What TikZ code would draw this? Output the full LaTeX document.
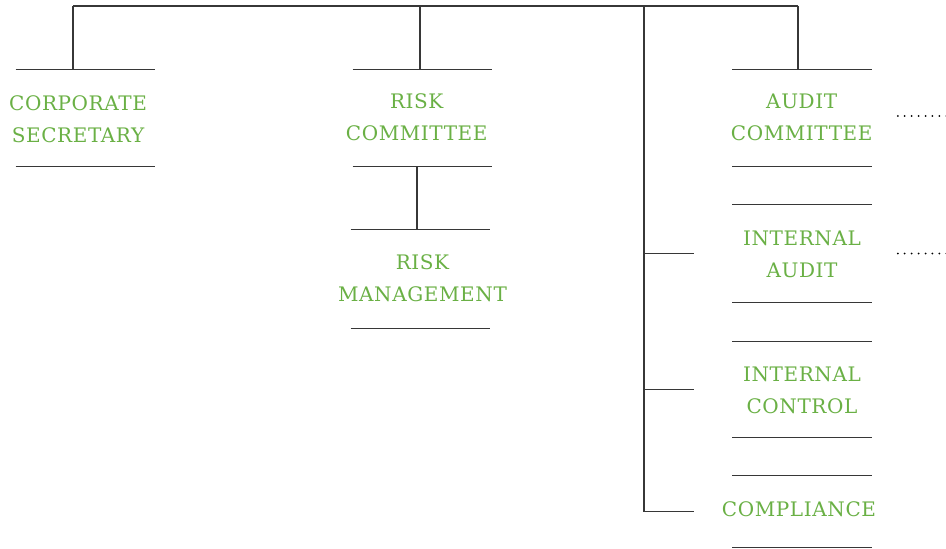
\documentclass[tikz,border=0pt]{standalone}
\usepackage{fontspec}
\newfontfamily\labelfont[LetterSpace=3]{DejaVu Serif}
\definecolor{brandgreen}{RGB}{106,176,69}
\definecolor{linegray}{RGB}{55,55,55}
\begin{document}
\begin{tikzpicture}[x=0.75pt,y=-0.75pt,
  box/.style={minimum width=104.25pt, minimum height=#1, inner sep=0pt, draw=none},
  lbl/.style={text=brandgreen, font=\labelfont\fontsize{15}{24}\selectfont, align=center, inner sep=0pt},
  rule/.style={draw=linegray, line width=0.9pt},
  dotline/.style={draw=black, line width=1.5pt, dash pattern=on 0pt off 5.2pt, line cap=round}]
\useasboundingbox (0,0) rectangle (946,549);
% boxes (rules only)
\node[box=72pt]   (cs) at (85.5,118) {};
\node[box=72pt]   (rc) at (422.5,118) {};
\node[box=73.5pt] (rm) at (420.5,279) {};
\node[box=72pt]   (ac) at (802,118) {};
\node[box=72.75pt] (ia) at (802,253.5) {};
\node[box=71.25pt] (ic) at (802,389.5) {};
\node[box=53.25pt] (co) at (802,511.5) {};
\foreach \b in {cs,rc,rm,ac,ia,ic,co}{
  \draw[rule] (\b.north west) -- (\b.north east);
  \draw[rule] (\b.south west) -- (\b.south east);
}
% labels
\node[lbl] (cst) at (78,119)    {CORPORATE\\SECRETARY};
\node[lbl] (rct) at (416.7,117) {RISK\\COMMITTEE};
\node[lbl] (rmt) at (422.5,278) {RISK\\MANAGEMENT};
\node[lbl] (act) at (801.7,117.5) {AUDIT\\COMMITTEE};
\node[lbl] (iat) at (802,254)   {INTERNAL\\AUDIT};
\node[lbl] (ict) at (802,390)   {INTERNAL\\CONTROL};
\node[lbl] (cot) at (799,509.3) {COMPLIANCE};
% connectors
\coordinate (tl) at (73,6);
\coordinate (tr) at (798,6);
\coordinate (rcTop) at (420,6);
\coordinate (sp) at (644,6);
\coordinate (rx) at (417,0);
\draw[rule] (tl) -- (tr);
\draw[rule] (tl) -- (tl |- cs.north);
\draw[rule] (rcTop) -- (rcTop |- rc.north);
\draw[rule] (tr) -- (tr |- ac.north);
\draw[rule] (rc.south -| rx) -- (rm.north -| rx);
\draw[rule] (sp) -- (sp |- co.west) -- ++(50,0);
\draw[rule] (sp |- ia.west) -- ++(50,0);
\draw[rule] (sp |- ic.west) -- ++(50,0);
\draw[dotline] ([xshift=19.5pt,yshift=1.5pt]ac.east) -- ++(50,0);
\draw[dotline] ([xshift=19.5pt]ia.east) -- ++(50,0);
\end{tikzpicture}
\end{document}
